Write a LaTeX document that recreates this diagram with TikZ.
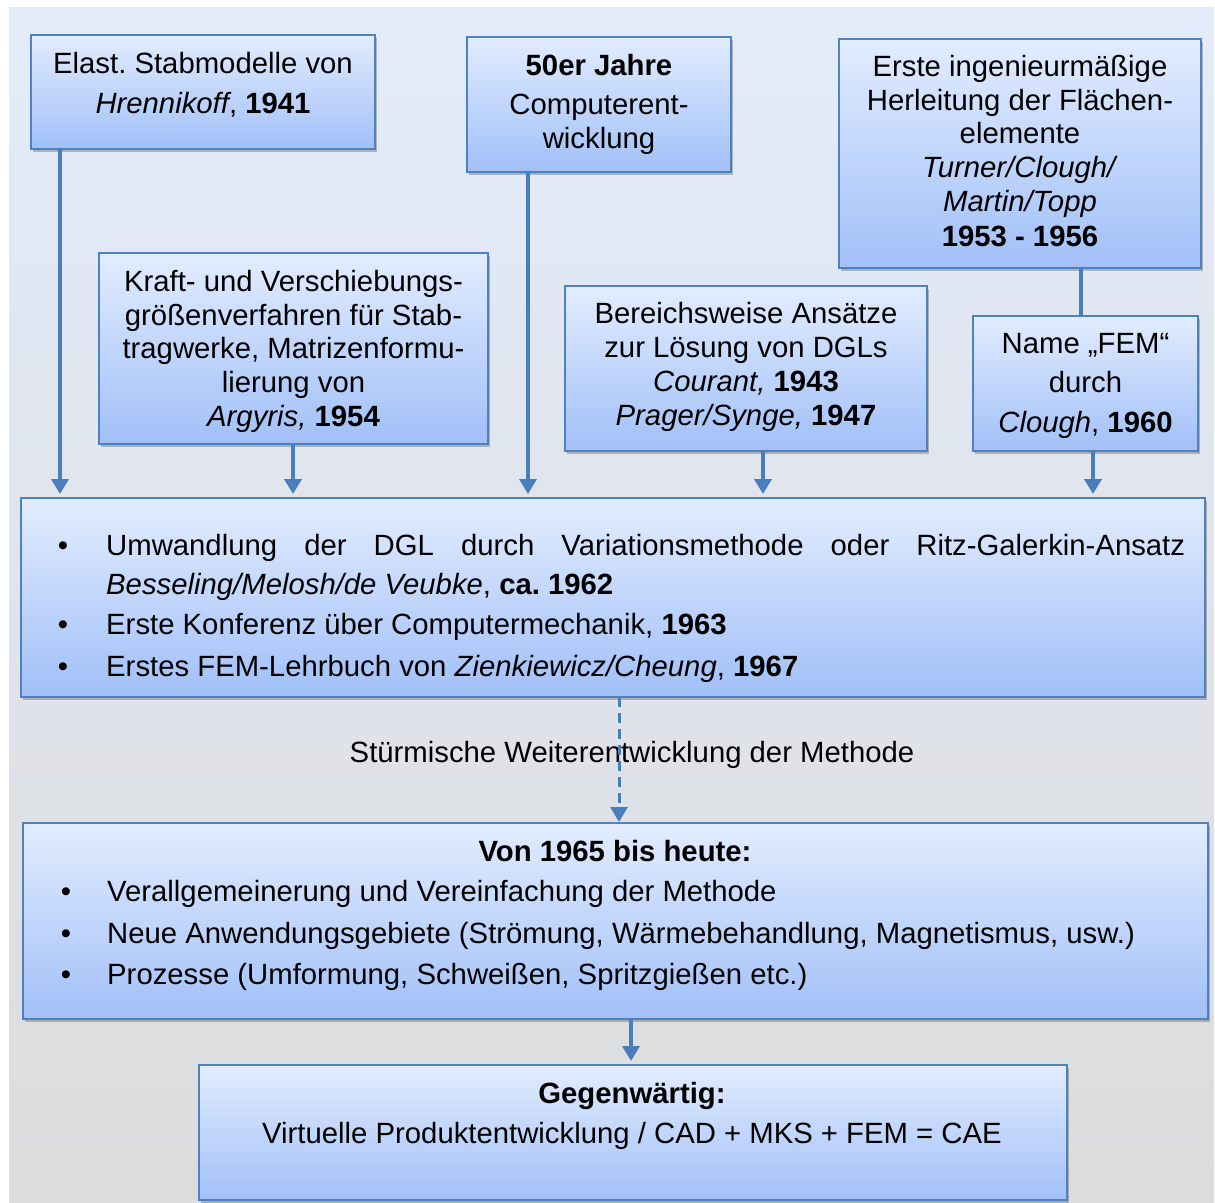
\documentclass[tikz,border=0pt]{standalone}
\usepackage{fontspec}
\setmainfont{Liberation Sans}
\frenchspacing
\usetikzlibrary{arrows.meta,shadows}
\definecolor{bgtop}{HTML}{E3EBFA}
\definecolor{bgmid}{HTML}{EDEEF1}
\definecolor{bgbot}{HTML}{DCDCDC}
\definecolor{boxtop}{HTML}{E2ECFE}
\definecolor{boxbot}{HTML}{A1C0F8}
\definecolor{boxline}{HTML}{4F81BD}
\definecolor{arrcol}{HTML}{4A7EBB}
\begin{document}
\begin{tikzpicture}[x=1pt,y=-1pt,
  box/.style={draw=boxline, line width=1.8pt, top color=boxtop, bottom color=boxbot,
    inner sep=0pt, outer sep=0pt,
    drop shadow={shadow xshift=2pt, shadow yshift=-3pt, opacity=0.35, fill=black!70}},
  t/.style={inner sep=0pt, anchor=base, font=\fontsize{29.3pt}{34pt}\selectfont},
  tl/.style={t, anchor=base west},
  arr/.style={draw=arrcol, line width=3.6pt, -{Triangle[width=17pt,length=15pt]}, shorten >=4pt},
  link/.style={draw=arrcol, line width=3.6pt},
  dsh/.style={draw=arrcol, line width=3pt, dash pattern=on 10pt off 6pt,
    -{Triangle[width=17pt,length=15pt]}, shorten >=1pt}
]
\useasboundingbox (0,0) rectangle (1215,1202);
\fill[top color=bgtop, middle color=bgmid, bottom color=bgbot] (9,7) rectangle (1214,1202);

% boxes
\node[box, minimum width=344pt, minimum height=114pt] (b1) at (203,92) {};
\node[box, minimum width=264pt, minimum height=135pt] (b2) at (599,104.5) {};
\node[box, minimum width=362pt, minimum height=229pt] (b3) at (1020,153.5) {};
\node[box, minimum width=389pt, minimum height=191pt] (b4) at (293.5,348.5) {};
\node[box, minimum width=362pt, minimum height=165pt] (b5) at (746,368.5) {};
\node[box, minimum width=225pt, minimum height=135pt] (b6) at (1085.5,383.5) {};
\node[box, minimum width=1184pt, minimum height=199pt] (b7) at (613,597.5) {};
\node[box, minimum width=1185pt, minimum height=196pt] (b8) at (615.5,921) {};
\node[box, minimum width=868pt, minimum height=135pt] (b9) at (633,1132.5) {};

% texts box 1
\node[t] (t11) at (203,73) {Elast. Stabmodelle von};
\node[t] (t12) at (203,113) {\textit{Hrennikoff}, \textbf{1941}};
% box 2
\node[t] (t21) at (599,75) {\textbf{50er Jahre}};
\node[t] (t22) at (599,114) {Computerent-};
\node[t] (t23) at (599,148) {wicklung};
% box 3
\node[t] (t31) at (1020,76) {Erste ingenieurmäßige};
\node[t] (t32) at (1020,110) {Herleitung der Flächen-};
\node[t] (t33) at (1020,143) {elemente};
\node[t] (t34) at (1020,177) {\textit{Turner/Clough/}};
\node[t] (t35) at (1020,211) {\textit{Martin/Topp}};
\node[t] (t36) at (1020,246) {\textbf{1953 - 1956}};
% box 4
\node[t] (t41) at (293.5,291) {Kraft- und Verschiebungs-};
\node[t] (t42) at (293.5,325) {größenverfahren für Stab-};
\node[t] (t43) at (293.5,358) {tragwerke, Matrizenformu-};
\node[t] (t44) at (293.5,392) {lierung von};
\node[t] (t45) at (293.5,426) {\textit{Argyris,} \textbf{1954}};
% box 5
\node[t] (t51) at (746,323) {Bereichsweise Ansätze};
\node[t] (t52) at (746,357) {zur Lösung von DGLs};
\node[t] (t53) at (746,391) {\textit{Courant,} \textbf{1943}};
\node[t] (t54) at (746,425) {\textit{Prager/Synge,} \textbf{1947}};
% box 6
\node[t] (t61) at (1085.5,353) {Name „FEM“};
\node[t] (t62) at (1085.5,392) {durch};
\node[t] (t63) at (1085.5,432) {\textit{Clough}, \textbf{1960}};
% box 7
\node[t] (u1) at (63,555) {•};
\node[tl] (t71) at (106,555) {\makebox[1079pt][s]{Umwandlung der DGL durch Variationsmethode oder Ritz-Galerkin-Ansatz}};
\node[tl] (t72) at (106,594) {\textit{Besseling/Melosh/de Veubke}, \textbf{ca. 1962}};
\node[t] (u2) at (63,634) {•};
\node[tl] (t73) at (106,634) {Erste Konferenz über Computermechanik, \textbf{1963}};
\node[t] (u3) at (63,676) {•};
\node[tl] (t74) at (106,676) {Erstes FEM-Lehrbuch von \textit{Zienkiewicz/Cheung}, \textbf{1967}};
% middle label
\node[t] (mid) at (632,762) {Stürmische Weiterentwicklung der Methode};
% box 8
\node[t] (t81) at (615,861) {\textbf{Von 1965 bis heute:}};
\node[t] (u4) at (66,901) {•};
\node[tl] (t82) at (107,901) {Verallgemeinerung und Vereinfachung der Methode};
\node[t] (u5) at (66,943) {•};
\node[tl] (t83) at (107,943) {Neue Anwendungsgebiete (Strömung, Wärmebehandlung, Magnetismus, usw.)};
\node[t] (u6) at (66,984) {•};
\node[tl] (t84) at (107,984) {Prozesse (Umformung, Schweißen, Spritzgießen etc.)};
% box 9
\node[t] (t91) at (632,1103) {\textbf{Gegenwärtig:}};
\node[t] (t92) at (632,1143) {Virtuelle Produktentwicklung / CAD + MKS + FEM = CAE};

% connectors
\coordinate (xa) at (60,0);
\coordinate (xb) at (293,0);
\coordinate (xc) at (528,0);
\coordinate (xd) at (763,0);
\coordinate (xe) at (1093,0);
\coordinate (xf) at (1081,0);
\coordinate (xg) at (619,0);
\coordinate (xh) at (631,0);
\draw[arr] (b1.south -| xa) -- (b7.north -| xa);
\draw[arr] (b4.south -| xb) -- (b7.north -| xb);
\draw[arr] (b2.south -| xc) -- (b7.north -| xc);
\draw[arr] (b5.south -| xd) -- (b7.north -| xd);
\draw[arr] (b6.south -| xe) -- (b7.north -| xe);
\draw[link] (b3.south -| xf) -- (b6.north -| xf);
\draw[dsh] (b7.south -| xg) -- (b8.north -| xg);
\draw[arr] (b8.south -| xh) -- (b9.north -| xh);
\end{tikzpicture}
\end{document}
